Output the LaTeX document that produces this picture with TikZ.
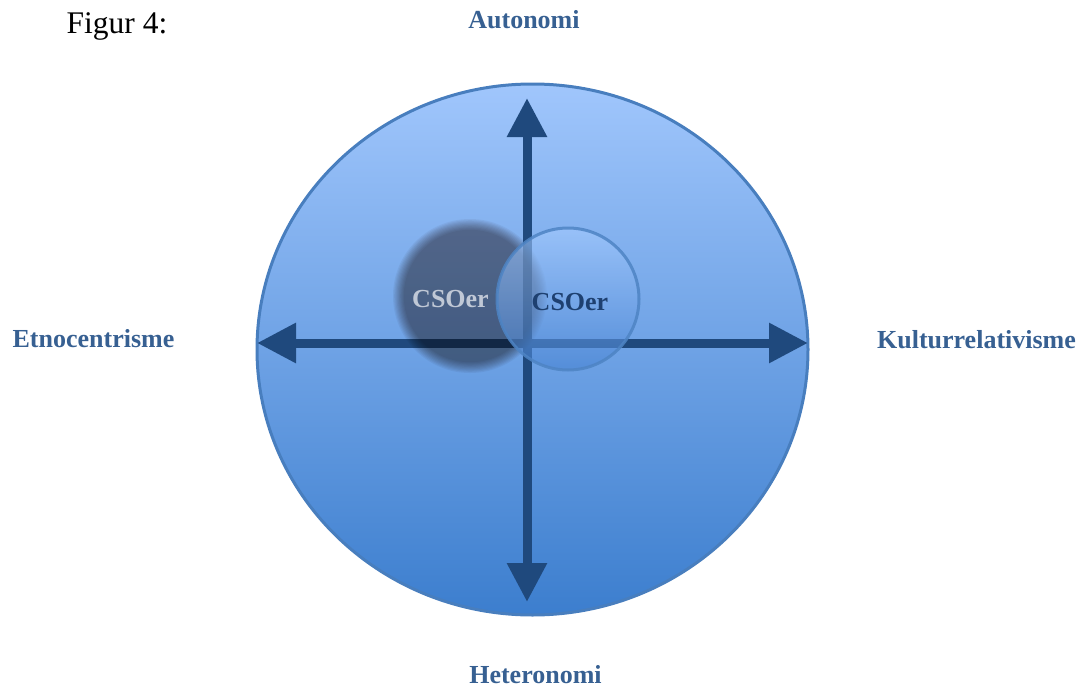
\documentclass[tikz,border=0pt]{standalone}
\usepackage{fontspec}
\setmainfont{Liberation Serif}
\usetikzlibrary{arrows.meta}
\definecolor{labelblue}{RGB}{55,96,146}
\definecolor{arrowblue}{RGB}{31,73,125}
\definecolor{bigtop}{RGB}{160,198,252}
\definecolor{bigbot}{RGB}{60,126,206}
\definecolor{bigedge}{RGB}{72,126,190}
\definecolor{shadowc}{RGB}{178,164,162}
\definecolor{shadowtext}{RGB}{192,200,214}
\definecolor{smalltop}{RGB}{165,203,255}
\definecolor{smallbot}{RGB}{70,130,210}
\definecolor{smalledge}{RGB}{78,132,196}
\definecolor{smalltext}{RGB}{30,64,112}
\tikzset{
  axislabel/.style={anchor=base, inner sep=0pt, text=labelblue, font=\fontsize{26}{30}\selectfont\bfseries},
  axisarrow/.style={draw=arrowblue, line width=9pt,
     {Triangle[length=39pt,width=38pt]}-{Triangle[length=39pt,width=38pt]}},
  csotext/.style={anchor=base, inner sep=0pt, font=\fontsize{26}{30}\selectfont\bfseries}
}
\begin{document}
\begin{tikzpicture}[x=1pt,y=-1pt]
\useasboundingbox (0,0) rectangle (1085,688);
% big circle
\shade[top color=bigtop, bottom color=bigbot] (532.5,349.5) ellipse [x radius=275.5, y radius=265.5];
\draw[bigedge, line width=3pt] (532.5,349.5) ellipse [x radius=275.5, y radius=265.5];
% axes
\coordinate (L) at (257,343);
\coordinate (R) at (808,343);
\coordinate (T) at (527,98);
\coordinate (B) at (527,602);
\draw[axisarrow] (L) -- (R);
\draw[axisarrow] (T) -- (B);
% blurred dark circle
\foreach \i in {0,...,9}{
  \fill[shadowc, opacity=0.14, blend mode=multiply] (470,296) circle ({77-1.2*\i});
}
\node[csotext, text=shadowtext] (cso1) at (450.5,307) {CSOer};
% light circle
\shade[top color=smalltop, bottom color=smallbot, opacity=0.6] (568,299) circle (71);
\draw[smalledge, line width=3pt, opacity=0.85] (568,299) circle (71);
\node[csotext, text=smalltext] (cso2) at (570,310) {CSOer};
% labels
\node[anchor=base, inner sep=0pt, font=\fontsize{31.5}{36}\selectfont] (fig) at (117,33) {Figur 4:};
\node[axislabel] (auto) at (524,28) {Autonomi};
\node[axislabel] (etno) at (93.5,347) {Etnocentrisme};
\node[axislabel] (kult) at (976.5,348) {Kulturrelativisme};
\node[axislabel] (hete) at (535.5,683.5) {Heteronomi};
\end{tikzpicture}
\end{document}
